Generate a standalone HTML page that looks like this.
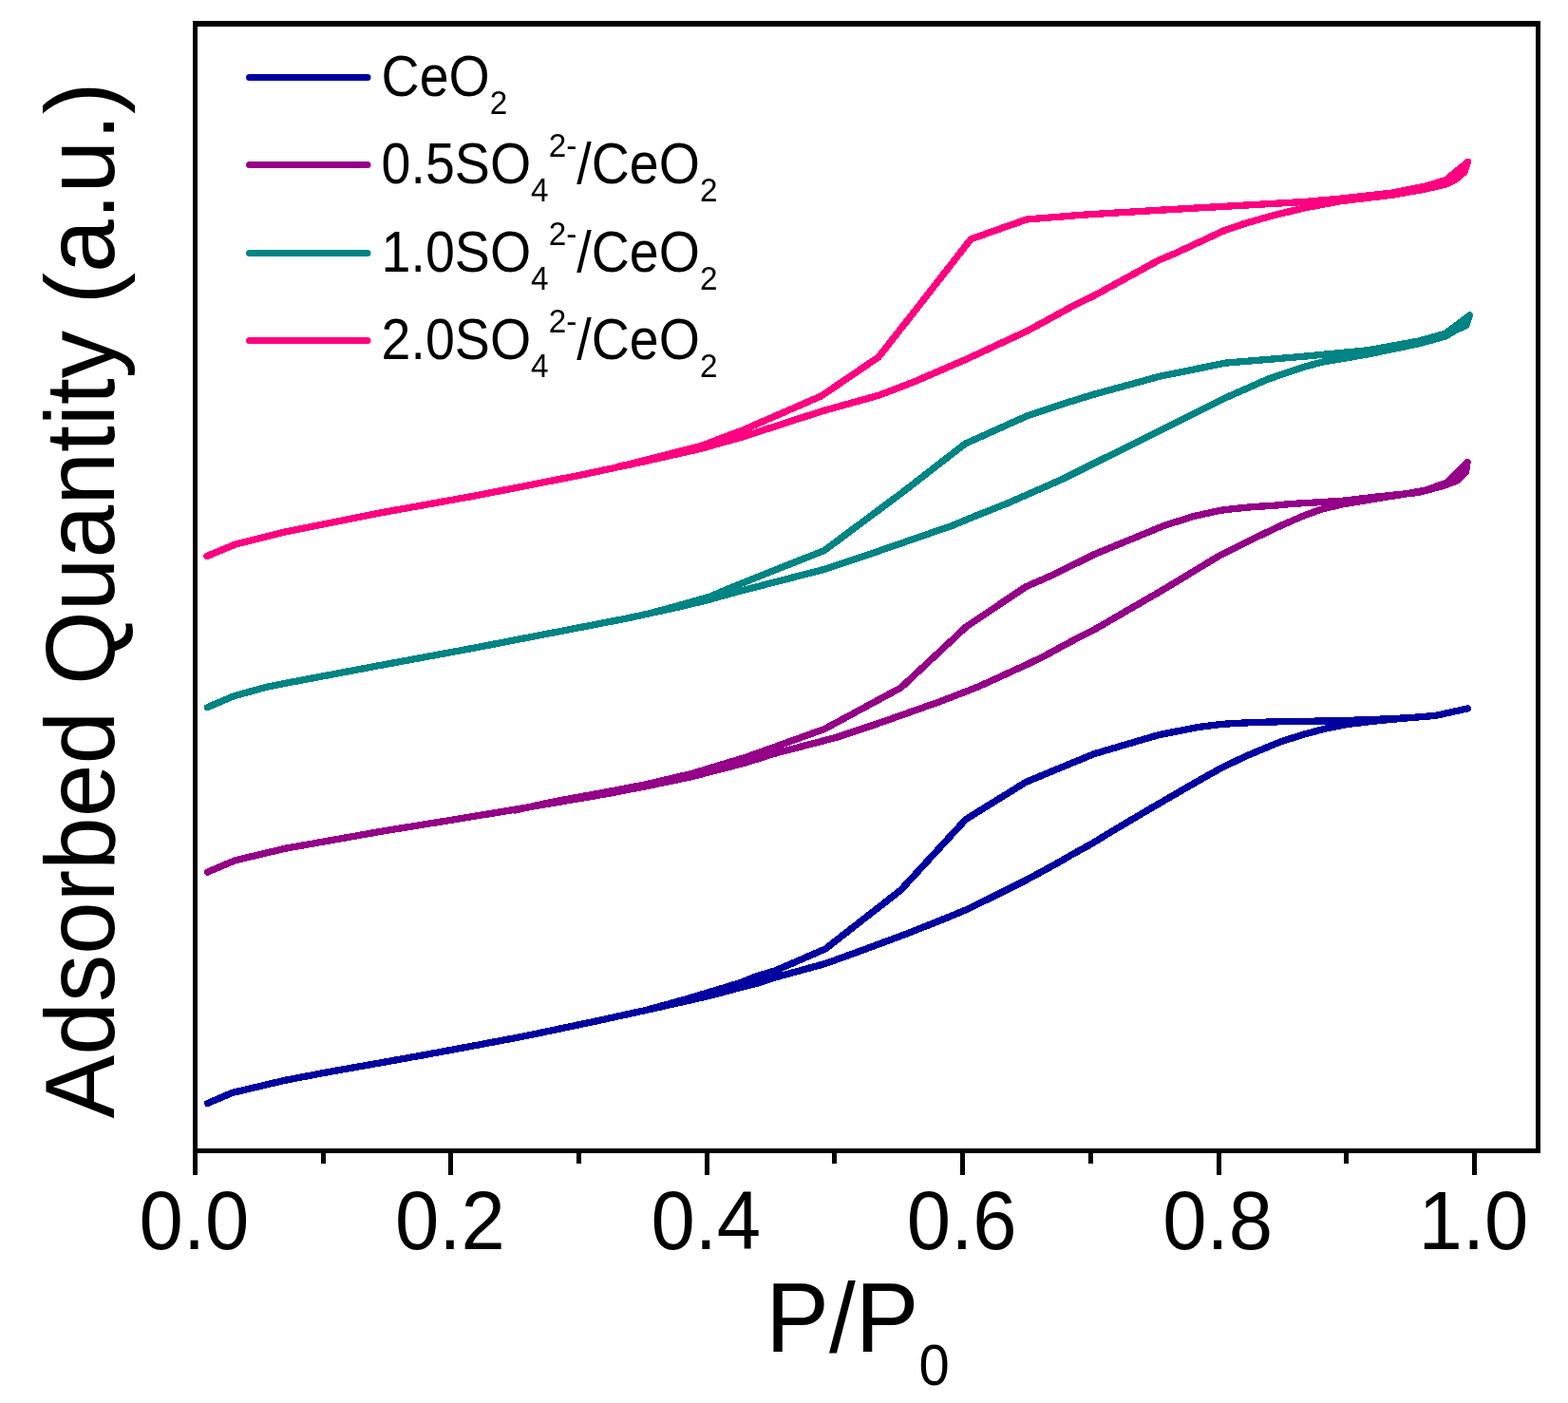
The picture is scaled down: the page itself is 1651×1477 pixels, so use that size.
<!DOCTYPE html>
<html lang="en"><head><meta charset="utf-8"><title>N2 adsorption-desorption isotherms</title>
<style>
html,body{margin:0;padding:0;background:#fff;}
body{width:1651px;height:1477px;overflow:hidden;}
svg{display:block;}
text{font-family:"Liberation Sans",Arial,Helvetica,sans-serif;fill:#000;}
</style></head><body>
<svg width="1651" height="1477" viewBox="0 0 1651 1477">
<rect x="0" y="0" width="1651" height="1477" fill="#fff"/>
<g id="curves" shape-rendering="crispEdges">
<polyline points="218.0,585.5 248.0,573.0 300.0,560.0 400.0,540.0 500.0,522.0 613.0,499.8 677.5,486.0 738.0,472.3 781.8,460.0 865.0,433.0 925.0,416.3 960.0,403.0 1017.5,378.2 1082.5,348.0 1130.0,322.0 1152.5,311.0 1200.0,285.0 1220.0,274.0 1239.0,266.0 1270.0,251.5 1289.0,242.8 1310.0,235.5 1340.0,227.0 1373.0,219.0 1413.0,211.5 1466.6,205.2 1501.0,199.0 1522.5,194.0 1533.0,188.8 1542.0,181.0 1545.5,170.5" fill="none" stroke="#FF0080" stroke-width="7.3" stroke-linejoin="round" stroke-linecap="round"/>
<polyline points="1545.5,170.5 1522.5,189.5 1501.0,196.0 1466.6,203.0 1413.0,209.0 1373.0,212.5 1225.0,221.0 1140.0,226.2 1081.0,231.0 1022.3,251.7 960.0,331.5 925.0,376.0 864.6,417.0 781.8,453.0 738.0,469.5 680.0,484.3 650.0,491.6" fill="none" stroke="#FF0080" stroke-width="7.3" stroke-linejoin="round" stroke-linecap="round"/>
<polyline points="218.5,744.6 246.0,732.9 280.0,723.4 300.0,719.4 400.0,700.5 500.0,682.0 613.0,660.1 660.0,651.0 718.0,638.3 747.0,631.2 775.6,623.2 867.5,599.5 925.0,580.2 1003.0,553.2 1030.0,542.0 1060.0,530.2 1089.0,517.5 1120.0,503.8 1150.0,488.8 1220.0,454.0 1290.0,419.0 1335.0,399.2 1373.0,386.3 1392.0,381.2 1440.0,373.0 1493.0,362.0 1522.0,354.0 1533.0,347.5 1544.0,342.5 1547.5,332.0" fill="none" stroke="#008484" stroke-width="7.3" stroke-linejoin="round" stroke-linecap="round"/>
<polyline points="1547.5,332.0 1522.0,351.2 1493.0,359.2 1440.0,368.8 1373.0,375.2 1290.0,382.2 1220.0,396.5 1150.0,415.7 1119.0,425.3 1080.0,438.5 1016.2,467.2 950.0,518.5 868.0,579.5 775.6,616.2 747.0,628.3 718.0,636.6 680.0,646.8" fill="none" stroke="#008484" stroke-width="7.3" stroke-linejoin="round" stroke-linecap="round"/>
<polyline points="218.7,918.0 247.5,905.8 300.0,893.3 400.0,875.5 480.0,862.5 542.0,852.3 580.0,845.8 640.0,835.5 680.0,827.8 727.0,818.0 785.0,803.0 816.6,793.0 880.0,776.5 925.0,761.5 990.0,738.5 1030.0,723.0 1082.5,699.0 1100.0,690.5 1119.0,680.0 1139.0,669.5 1152.5,662.7 1225.0,620.7 1285.0,584.4 1320.0,567.0 1339.0,558.0 1350.0,552.8 1375.0,542.0 1393.0,535.7 1413.0,531.0 1450.0,524.8 1480.0,520.0 1501.0,516.0 1524.0,508.0 1545.0,486.5" fill="none" stroke="#940088" stroke-width="7.3" stroke-linejoin="round" stroke-linecap="round"/>
<polyline points="1545.0,486.5 1543.5,497.0 1534.0,506.0 1520.0,511.5 1493.0,518.5 1450.0,523.0 1413.0,527.3 1359.0,530.5 1339.0,532.5 1320.0,533.5 1300.0,535.5 1285.0,537.3 1255.0,544.0 1225.0,553.7 1152.5,583.5 1110.0,604.6 1080.0,617.8 1017.5,659.7 948.7,724.0 868.0,767.5 816.6,786.0 785.0,797.3 727.0,814.8 680.0,825.8 640.0,833.5 580.0,844.5 542.4,853.0" fill="none" stroke="#940088" stroke-width="7.3" stroke-linejoin="round" stroke-linecap="round"/>
<polyline points="218.5,1161.5 245.0,1150.3 300.0,1137.3 350.0,1127.8 400.0,1119.0 450.0,1110.0 500.0,1100.7 550.0,1091.3 600.0,1080.8 630.0,1074.5 680.0,1063.5 700.0,1059.0 720.0,1054.5 748.5,1048.0 780.0,1039.5 797.0,1035.2 816.0,1029.0 869.0,1014.5 900.0,1003.3 952.7,983.8 980.0,973.0 1000.0,965.0 1019.0,957.0 1039.0,947.2 1080.0,926.8 1110.0,910.5 1130.0,899.0 1150.0,888.0 1169.0,876.3 1210.0,852.0 1260.0,823.0 1286.0,808.4 1312.7,795.7 1349.0,780.6 1375.0,772.5 1397.5,766.6 1420.0,762.3 1450.0,758.8 1485.0,755.6 1511.5,753.4 1545.5,745.8" fill="none" stroke="#0000A0" stroke-width="7.3" stroke-linejoin="round" stroke-linecap="round"/>
<polyline points="1545.5,745.8 1511.5,753.4 1485.0,755.6 1440.0,757.8 1393.0,759.0 1337.0,760.0 1310.0,761.0 1286.0,762.4 1262.0,765.5 1240.0,769.7 1220.0,773.7 1152.5,793.5 1110.0,811.0 1080.0,823.5 1017.0,862.5 948.5,937.0 869.0,999.0 816.0,1022.0 797.0,1027.5 780.0,1034.4 748.5,1044.0 720.0,1052.5 680.0,1063.5" fill="none" stroke="#0000A0" stroke-width="7.3" stroke-linejoin="round" stroke-linecap="round"/>
</g>
<g id="axes" fill="#000" shape-rendering="crispEdges">
<rect x="203" y="22" width="1419" height="6"/>
<rect x="203" y="1209" width="1419" height="5"/>
<rect x="203" y="22" width="5" height="1215"/>
<rect x="1617" y="22" width="5" height="1192"/>
<rect x="338" y="1214" width="5" height="11"/>
<rect x="472" y="1214" width="5" height="23"/>
<rect x="607" y="1214" width="5" height="11"/>
<rect x="742" y="1214" width="5" height="23"/>
<rect x="876" y="1214" width="5" height="11"/>
<rect x="1011" y="1214" width="5" height="23"/>
<rect x="1146" y="1214" width="5" height="11"/>
<rect x="1281" y="1214" width="5" height="23"/>
<rect x="1415" y="1214" width="5" height="11"/>
<rect x="1550" y="1214" width="5" height="23"/>
</g>
<g id="ticklabels">
<text transform="translate(204.50,1315.20) scale(1.0,1.035)" font-size="83.3" text-anchor="middle">0.0</text>
<text transform="translate(473.90,1315.20) scale(1.0,1.035)" font-size="83.3" text-anchor="middle">0.2</text>
<text transform="translate(743.30,1315.20) scale(1.0,1.035)" font-size="83.3" text-anchor="middle">0.4</text>
<text transform="translate(1012.70,1315.20) scale(1.0,1.035)" font-size="83.3" text-anchor="middle">0.6</text>
<text transform="translate(1282.10,1315.20) scale(1.0,1.035)" font-size="83.3" text-anchor="middle">0.8</text>
<text transform="translate(1551.50,1315.20) scale(1.0,1.035)" font-size="83.3" text-anchor="middle">1.0</text>
</g>
<g id="xtitle">
<text transform="translate(806.30,1422.50) scale(1.0,1.04)" font-size="100">P/P</text>
<text transform="translate(967.48,1457.50) scale(1.0,1.05)" font-size="58">0</text>
</g>
<text id="ytitle" transform="translate(120.00,1177.50) rotate(-90) scale(1.0,1.04)" font-size="100.15">Adsorbed Quantity (a.u.)</text>
<g id="legend">
<line x1="262.5" y1="81.5" x2="387" y2="81.5" stroke="#0000A0" stroke-width="7" stroke-linecap="round"/>
<text transform="translate(401.60,100.50) scale(1.0,1.09)" font-size="55.56">CeO</text>
<text transform="translate(515.84,119.90) scale(1.0,1.03)" font-size="33.3">2</text>
<line x1="262.5" y1="173.5" x2="387" y2="173.5" stroke="#940088" stroke-width="7" stroke-linecap="round"/>
<text transform="translate(401.60,192.50) scale(1.0,1.09)" font-size="55.56">0.5SO</text>
<text transform="translate(559.11,211.90) scale(1.0,1.03)" font-size="33.3">4</text>
<text transform="translate(577.63,165.00) scale(1.0,1.03)" font-size="33.3">2-</text>
<text transform="translate(607.24,192.50) scale(1.0,1.09)" font-size="55.56">/CeO</text>
<text transform="translate(736.92,211.90) scale(1.0,1.03)" font-size="33.3">2</text>
<line x1="262.5" y1="266.5" x2="387" y2="266.5" stroke="#008484" stroke-width="7" stroke-linecap="round"/>
<text transform="translate(401.60,285.50) scale(1.0,1.09)" font-size="55.56">1.0SO</text>
<text transform="translate(559.11,304.90) scale(1.0,1.03)" font-size="33.3">4</text>
<text transform="translate(577.63,258.00) scale(1.0,1.03)" font-size="33.3">2-</text>
<text transform="translate(607.24,285.50) scale(1.0,1.09)" font-size="55.56">/CeO</text>
<text transform="translate(736.92,304.90) scale(1.0,1.03)" font-size="33.3">2</text>
<line x1="262.5" y1="358.5" x2="387" y2="358.5" stroke="#FF0080" stroke-width="7" stroke-linecap="round"/>
<text transform="translate(401.60,377.50) scale(1.0,1.09)" font-size="55.56">2.0SO</text>
<text transform="translate(559.11,396.90) scale(1.0,1.03)" font-size="33.3">4</text>
<text transform="translate(577.63,350.00) scale(1.0,1.03)" font-size="33.3">2-</text>
<text transform="translate(607.24,377.50) scale(1.0,1.09)" font-size="55.56">/CeO</text>
<text transform="translate(736.92,396.90) scale(1.0,1.03)" font-size="33.3">2</text>
</g>
</svg>
</body></html>
